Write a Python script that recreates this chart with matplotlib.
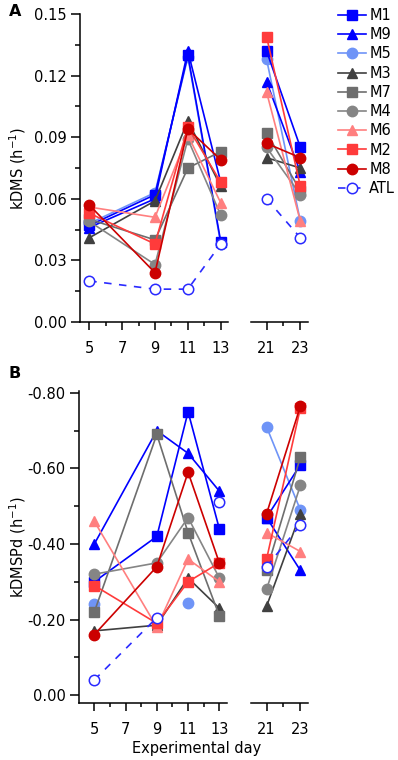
import numpy as np
import matplotlib
matplotlib.use("Agg")
import matplotlib.pyplot as plt
from matplotlib.ticker import FixedLocator, FuncFormatter

nan = np.nan

days = [5, 9, 11, 13, 21, 23]
names = ["M1", "M9", "M5", "M3", "M7", "M4", "M6", "M2", "M8", "ATL"]

# panel A: kDMS (h-1)
kdms_m1 = [0.047, 0.062, 0.130, 0.039, 0.132, 0.085]
kdms_m9 = [0.046, 0.060, 0.132, 0.068, 0.117, 0.073]
kdms_m5 = [0.048, 0.063, 0.129, 0.038, 0.128, 0.049]
kdms_m3 = [0.041, 0.059, 0.098, 0.066, 0.080, 0.075]
kdms_m7 = [0.050, 0.040, 0.075, 0.083, 0.092, 0.064]
kdms_m4 = [0.049, 0.028, 0.089, 0.052, 0.085, 0.062]
kdms_m6 = [0.056, 0.051, 0.091, 0.058, 0.112, 0.049]
kdms_m2 = [0.053, 0.038, 0.095, 0.068, 0.139, 0.066]
kdms_m8 = [0.057, 0.024, 0.094, 0.079, 0.087, 0.080]
kdms_atl = [0.020, 0.016, 0.016, 0.038, 0.060, 0.041]

# panel B: kDMSPd (h-1)
kdmspd_m1 = [-0.30, -0.42, -0.75, -0.44, -0.47, -0.61]
kdmspd_m9 = [-0.40, -0.70, -0.64, -0.54, -0.47, -0.33]
kdmspd_m5 = [-0.24, nan, -0.245, nan, -0.71, -0.49]
kdmspd_m3 = [-0.17, -0.185, -0.31, -0.23, -0.235, -0.48]
kdmspd_m7 = [-0.22, -0.69, -0.43, -0.21, -0.33, -0.63]
kdmspd_m4 = [-0.32, -0.35, -0.47, -0.31, -0.28, -0.555]
kdmspd_m6 = [-0.46, -0.18, -0.36, -0.30, -0.43, -0.38]
kdmspd_m2 = [-0.29, -0.19, -0.30, -0.35, -0.36, -0.76]
kdmspd_m8 = [-0.16, -0.34, -0.59, -0.35, -0.48, -0.765]
kdmspd_atl = [-0.04, -0.205, nan, -0.51, -0.34, -0.45]

kdms = [kdms_m1, kdms_m9, kdms_m5, kdms_m3, kdms_m7, kdms_m4,
        kdms_m6, kdms_m2, kdms_m8, kdms_atl]
kdmspd = [kdmspd_m1, kdmspd_m9, kdmspd_m5, kdmspd_m3, kdmspd_m7, kdmspd_m4,
          kdmspd_m6, kdmspd_m2, kdmspd_m8, kdmspd_atl]

colors = ["#0000ff", "#0000ff", "#6f94f7", "#404040", "#6e6e6e", "#858585",
          "#ff7f7f", "#ff3b3b", "#cc0000", "#2a2aff"]
markers = ["s", "^", "o", "^", "s", "o", "^", "s", "o", "o"]

W, H = 398, 760
FS = 10.5
plt.rcParams["font.family"] = ["DejaVu Sans"]
plt.rcParams["axes.linewidth"] = 1.1

fig = plt.figure(figsize=(W / 100, H / 100), dpi=100)


def px_axes(x0, y_top, w, y_bot):
    return fig.add_axes([x0 / W, 1 - y_bot / H, w / W, (y_bot - y_top) / H])


def style_axes(ax, left, xmaj, xmin):
    for s in ["top", "right"]:
        ax.spines[s].set_visible(False)
    if not left:
        ax.spines["left"].set_visible(False)
        ax.tick_params(axis="y", which="both", left=False, labelleft=False)
    ax.xaxis.set_major_locator(FixedLocator(xmaj))
    ax.xaxis.set_minor_locator(FixedLocator(xmin))
    ax.tick_params(axis="x", which="major", direction="out", length=5.5,
                   width=1.1, labelsize=FS, pad=8)
    ax.tick_params(axis="x", which="minor", direction="out", length=3,
                   width=1.1)
    ax.tick_params(axis="y", which="major", direction="out", length=6.5,
                   width=1.1, labelsize=FS, pad=3)
    ax.tick_params(axis="y", which="minor", direction="out", length=3.6,
                   width=1.1)
    ax.set_facecolor("none")


def draw(ax, data, sl):
    handles = []
    for name, vals, c, m in zip(names, data, colors, markers):
        x = np.array(days[sl], dtype=float)
        y = np.array(vals[sl], dtype=float)
        z = 1.9 if name == "M5" else 2
        if name == "ATL":
            h, = ax.plot(x, y, color=c, lw=1.2, ls=(0, (4.5, 4.5)),
                         marker=m, ms=7.5, mfc="white", mec=c, mew=1.1,
                         label=name, clip_on=False, zorder=z)
        else:
            h, = ax.plot(x, y, color=c, lw=1.2, marker=m,
                         ms=7.5 if m != "s" else 7, mfc=c, mec=c,
                         label=name, clip_on=False, zorder=z)
        handles.append(h)
    return handles


# panel A
axA1 = px_axes(80, 14, 148, 322)
axA2 = px_axes(251, 14, 57, 322)
hA = draw(axA1, kdms, slice(0, 4))
draw(axA2, kdms, slice(4, 6))
for ax, left, xmaj, xmin, xl in [(axA1, True, [5, 7, 9, 11, 13], [6, 8, 10, 12], (4.44, 13.44)),
                                 (axA2, False, [21, 23], [22], (20.08, 23.45))]:
    style_axes(ax, left, xmaj, xmin)
    ax.set_xlim(*xl)
    ax.set_ylim(0, 0.15)
axA1.yaxis.set_major_locator(FixedLocator([0, 0.03, 0.06, 0.09, 0.12, 0.15]))
axA1.yaxis.set_minor_locator(FixedLocator([0.015, 0.045, 0.075, 0.105, 0.135]))
axA1.yaxis.set_major_formatter(FuncFormatter(lambda v, p: f"{v:.2f}"))
axA1.set_ylabel("kDMS (h$^{-1}$)", fontsize=FS)
axA1.yaxis.set_label_coords(-0.35, 0.5)

# panel B
axB1 = px_axes(79, 391, 148, 703)
axB2 = px_axes(251, 391, 57, 703)
draw(axB1, kdmspd, slice(0, 4))
draw(axB2, kdmspd, slice(4, 6))
for ax, left, xmaj, xmin, xl in [(axB1, True, [5, 7, 9, 11, 13], [6, 8, 10, 12], (4.02, 13.49)),
                                 (axB2, False, [21, 23], [22], (20.08, 23.45))]:
    style_axes(ax, left, xmaj, xmin)
    ax.set_xlim(*xl)
    ax.set_ylim(0.021, -0.805)
axB1.yaxis.set_major_locator(FixedLocator([0.0, -0.2, -0.4, -0.6, -0.8]))
axB1.yaxis.set_minor_locator(FixedLocator([-0.1, -0.3, -0.5, -0.7]))
axB1.yaxis.set_major_formatter(FuncFormatter(lambda v, p: f"{v:.2f}" if v != 0 else "0.00"))
axB1.set_ylabel("kDMSPd (h$^{-1}$)", fontsize=FS)
axB1.yaxis.set_label_coords(-0.345, 0.5)

fig.legend(hA, names, loc="upper left", bbox_to_anchor=(338 / W, 1 - 8 / H),
           frameon=False, fontsize=FS, handlelength=1.9, handletextpad=0.25,
           labelspacing=0.29, borderpad=0, borderaxespad=0)

fig.text(15 / W, 1 - 11 / H, "A", fontsize=FS + 1, weight="bold", ha="center", va="center")
fig.text(15 / W, 1 - 373 / H, "B", fontsize=FS + 1, weight="bold", ha="center", va="center")
fig.text(197 / W, 1 - 748 / H, "Experimental day", fontsize=FS, ha="center", va="center")

fig.savefig("out.png", dpi=100)
